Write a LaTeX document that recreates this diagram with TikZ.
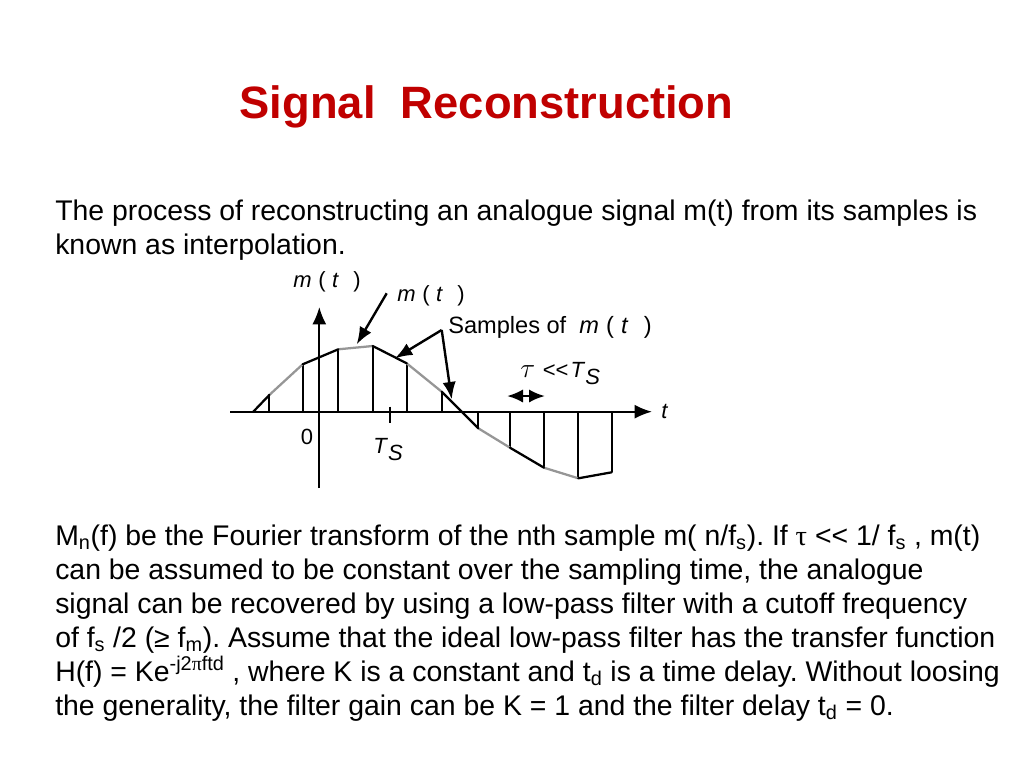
\documentclass[tikz,border=0pt]{standalone}
\usepackage{fontspec}
\setmainfont{Liberation Sans}
\newfontfamily\greekfont{Liberation Serif}
\usetikzlibrary{calc,arrows.meta}
\definecolor{titlered}{RGB}{192,0,0}
\definecolor{curvegray}{RGB}{150,150,150}
\newcommand{\lowidx}[1]{\textsubscript{#1}}
\newcommand{\Tsym}{\textit{T}\raisebox{-0.6ex}{\textit{S}}}
\newcommand{\mt}{\textit{m}\hspace{0.3em}(\hspace{0.3em}\textit{t}\hspace{0.65em})}
\frenchspacing
\tikzset{
  bodytext/.style={anchor=base west,inner sep=0pt,font=\fontsize{21.3}{25}\selectfont},
  plotlabel/.style={inner sep=0pt,font=\fontsize{16.5}{20}\selectfont},
  pointer/.style={-{Latex[length=13pt,width=10pt]},line width=1.8pt},
  sample/.style={line width=1.4pt},
  tops/.style={line width=1.7pt,line cap=round},
  gaps/.style={line width=1.7pt,line cap=round,color=curvegray}
}

\begin{document}
\begin{tikzpicture}[x=0.75pt,y=-0.75pt]
                      \useasboundingbox[fill=white] (0,0) rectangle (1024,768);
                      % heading and first paragraph
                      \node[anchor=base,inner sep=0pt,text=titlered,font=\bfseries\fontsize{34}{40}\selectfont] (title) at (486.5,118.5) {Signal\ \ Reconstruction};
                      \node[bodytext] (intro1) at (55,220) {The process of reconstructing an analogue signal m(t) from its samples is};
                      \node[bodytext] (intro2) at (55,254) {known as interpolation.};
                      % sampled signal
                      \coordinate (p0) at (253.3,411.7);
                      \coordinate (p1) at (269.3,395);
                      \coordinate (p2) at (302.7,364.3);
                      \coordinate (p3) at (338.3,349.3);
                      \coordinate (p4) at (372.7,346);
                      \coordinate (p5) at (406.7,363.3);
                      \coordinate (p6) at (441.7,391.7);
                      \coordinate (p7) at (478.3,428.3);
                      \coordinate (p8) at (510,447.7);
                      \coordinate (p9) at (544,467.7);
                      \coordinate (p10) at (578.3,478.3);
                      \coordinate (p11) at (611.7,472.3);
                      \coordinate (x axis) at (230,411.7);
                      \foreach \k in {1,...,11}
                      \draw[sample] (p\k) -- (p\k |- x axis);
                      \foreach \a/\b in {1/2,3/4,5/6,7/8,9/10}
                      \draw[gaps] (p\a) -- (p\b);
                      \foreach \a/\b in {0/1,2/3,4/5,6/7,8/9,10/11}
                      \draw[tops] (p\a) -- (p\b);
                      \draw[-{Latex[length=13pt,width=10.5pt]},line width=1.5pt] (x axis) -- (652,411.7) coordinate (t end);
                      \node[plotlabel,anchor=west] (t label) at (661,411.7) {\textit{t}};
                      \draw[-{Latex[length=13pt,width=10.5pt]},line width=1.5pt] (319.3,488) coordinate (y start) -- (319.3,307) coordinate (y end);
                      \node[plotlabel] (m label) at (327,282) {\mt};
                      \node[plotlabel] (zero) at (307,437) {0};
                      \draw[sample] (390,406.7) coordinate (ts tick) -- (390,423.3);
                      \node[plotlabel] (ts label) at (388,450) {\Tsym};
                      % pointers
                      \node[plotlabel] (curve label) at (431,296) {\mt};
                      \coordinate (curve from) at (386.7,293.3);
                      \coordinate (curve aim) at (356.7,344.3);
                      \draw[pointer] (curve from) -- (curve aim);
                      \node[plotlabel,anchor=west,font=\fontsize{17.7}{21}\selectfont] (samples label) at (448,327) {Samples of\ \ \mt};
                      \coordinate (fork) at (441.7,330);
                      \coordinate (aim one) at (395,358.3);
                      \coordinate (aim two) at (451.7,399.3);
                      \draw[pointer] (fork) -- (aim one);
                      \draw[pointer] (fork) -- (aim two);
                      \coordinate (tau left) at (507,396);
                      \coordinate (tau right) at (545,396);
                      \draw[{Latex[length=12pt,width=10pt]}-{Latex[length=12pt,width=10pt]},line width=2pt] (tau left) -- (tau right);
                      \node[plotlabel,anchor=west] (tau label) at (520,374) {{\fontsize{20}{20}\selectfont$\tau$}\hspace{0.35em}<{}<\hspace{0.1em}\Tsym};
                      % second paragraph
                      \node[bodytext] (line1) at (55,545) {M\lowidx{n}(f) be the Fourier transform of the nth sample m( n/f\lowidx{s}). If {\greekfont τ} <{}< 1/ f\lowidx{s} , m(t)};
                      \node[bodytext] (line2) at (55,579) {can be assumed to be constant over the sampling time, the analogue};
                      \node[bodytext] (line3) at (55,613) {signal can be recovered by using a low-pass filter with a cutoff frequency};
                      \node[bodytext] (line4) at (55,647) {of f\lowidx{s} /2 (≥ f\lowidx{m}). Assume that the ideal low-pass filter has the transfer function};
                      \node[bodytext] (line5) at (55,681) {H(f) = Ke\textsuperscript{-j2{\greekfont π}ftd} , where K is a constant and t\lowidx{d} is a time delay. Without loosing};
                      \node[bodytext] (line6) at (55,715) {the generality, the filter gain can be K = 1 and the filter delay t\lowidx{d} = 0.};
                  \end{tikzpicture}
\end{document}
